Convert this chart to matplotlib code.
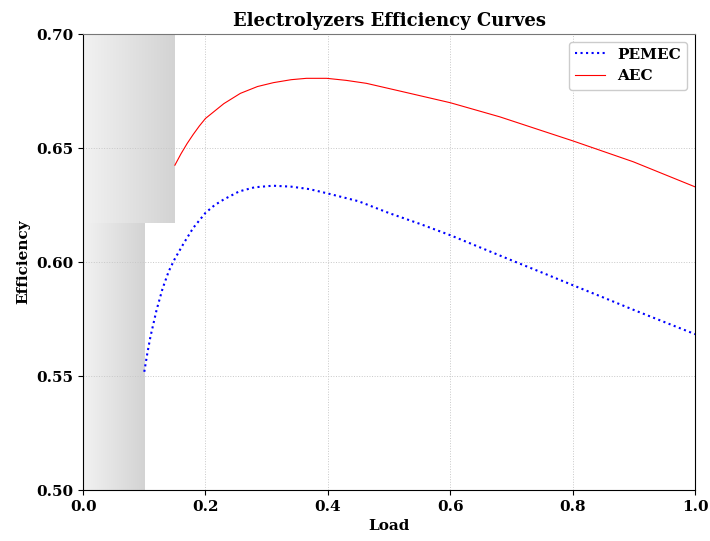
import numpy as np
import matplotlib.pyplot as plt
from matplotlib.colors import LinearSegmentedColormap

plt.rcParams['font.family'] = 'DejaVu Serif'
plt.rcParams['font.weight'] = 'bold'

# Efficiency curves read at selected load points
pem_load = [0.100, 0.105, 0.110, 0.120, 0.130, 0.140, 0.150, 0.165, 0.180,
            0.200, 0.215, 0.230, 0.255, 0.280, 0.310, 0.340, 0.370, 0.400,
            0.450, 0.500, 0.550, 0.600, 0.650, 0.700, 0.750, 0.800, 0.850,
            0.900, 0.950, 1.000]
pem_eff = [0.5519, 0.5600, 0.5672, 0.5789, 0.5885, 0.5960, 0.6015, 0.6085,
           0.6150, 0.6216, 0.6250, 0.6275, 0.6310, 0.6328, 0.6335, 0.6331,
           0.6320, 0.6301, 0.6267, 0.6215, 0.6168, 0.6118, 0.6063, 0.6008,
           0.5954, 0.5899, 0.5845, 0.5790, 0.5737, 0.5684]

aec_load = [0.150, 0.160, 0.170, 0.180, 0.190, 0.200, 0.230, 0.257, 0.285,
            0.311, 0.340, 0.365, 0.398, 0.430, 0.463, 0.518, 0.600, 0.681,
            0.750, 0.801, 0.899, 1.000]
aec_eff = [0.6425, 0.6475, 0.6520, 0.6560, 0.6597, 0.6630, 0.6695, 0.6740,
           0.6770, 0.6787, 0.6800, 0.6806, 0.6806, 0.6797, 0.6784, 0.6750,
           0.6699, 0.6637, 0.6576, 0.6531, 0.6440, 0.6330]

# minimum load zones (load limit, efficiency range)
pem_min_load = 0.10
aec_min_load = 0.15
zone_split = 0.617

fig = plt.figure(figsize=(7.1, 5.41), dpi=100)
ax = fig.add_axes([0.117, 0.094, 0.862, 0.843])

grad = LinearSegmentedColormap.from_list('shade', ['#f2f2f2', '#d3d3d3'])
ramp = np.linspace(0, 1, 256).reshape(1, -1)
ax.imshow(ramp, cmap=grad, aspect='auto', extent=[0, aec_min_load, zone_split, 0.70],
          zorder=0)
ax.imshow(ramp, cmap=grad, aspect='auto', extent=[0, pem_min_load, 0.50, zone_split],
          zorder=0)

ax.plot(pem_load, pem_eff, color='blue', linestyle=':', linewidth=1.5, label='PEMEC')
ax.plot(aec_load, aec_eff, color='red', linestyle='-', linewidth=0.8, label='AEC')

ax.set_xlim(0, 1.0)
ax.set_ylim(0.50, 0.70)
ax.set_xticks([0.0, 0.2, 0.4, 0.6, 0.8, 1.0])
ax.set_yticks([0.50, 0.55, 0.60, 0.65, 0.70])
ax.xaxis.set_major_formatter(plt.FormatStrFormatter('%.1f'))
ax.yaxis.set_major_formatter(plt.FormatStrFormatter('%.2f'))
ax.grid(True, linestyle=':', color='#c8c8c8', linewidth=0.7)
ax.set_axisbelow(True)
ax.tick_params(labelsize=11)

ax.spines['top'].set_color('#777777')
for s in ['left', 'bottom', 'right']:
    ax.spines[s].set_color('black')

ax.set_xlabel('Load', fontsize=11, fontweight='bold')
ax.set_ylabel('Efficiency', fontsize=11, fontweight='bold')
ax.set_title('Electrolyzers Efficiency Curves', fontsize=13, fontweight='bold')

leg = ax.legend(loc='upper right', fontsize=11, handlelength=2.0, framealpha=1)
leg.get_frame().set_edgecolor('#cccccc')

fig.savefig('out.png', dpi=100)
